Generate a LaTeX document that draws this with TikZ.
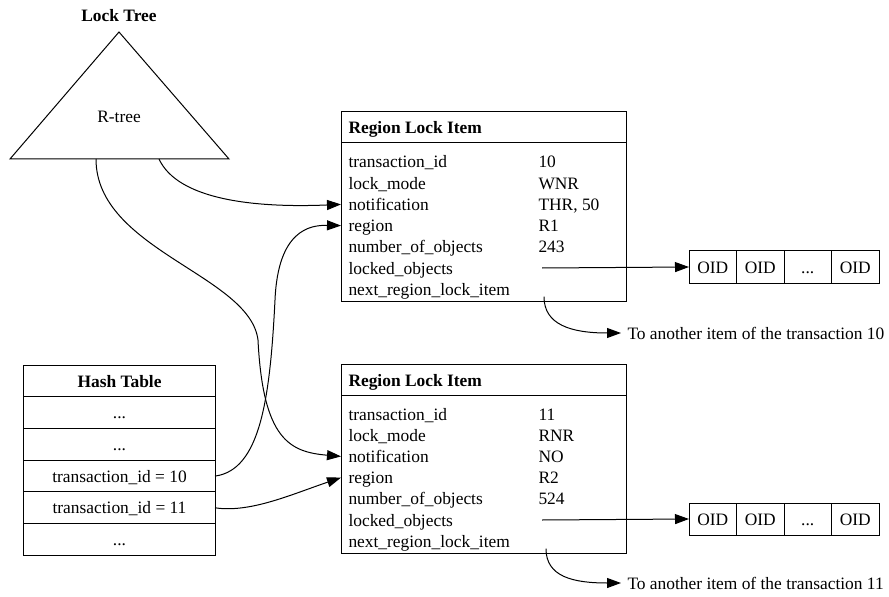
\documentclass[tikz,border=0pt]{standalone}
\usepackage{fontspec}
\setmainfont{Liberation Serif}
\usetikzlibrary{arrows.meta, positioning}

\begin{document}
\begin{tikzpicture}[x=1bp, y=-1bp, line width=1bp,
        every node/.style={font=\fontsize{17.4bp}{20bp}\selectfont, text height=13bp, text depth=1bp},
        box/.style={draw, minimum width=285bp, inner sep=0pt, outer sep=0pt},
        row/.style={anchor=west, inner xsep=7bp, inner ysep=0pt},
        val/.style={anchor=west, inner sep=0pt},
        cell/.style={draw, minimum width=191bp, minimum height=31.7bp, inner sep=0pt, outer sep=0pt},
        oid/.style={draw, minimum width=47.5bp, minimum height=32bp, inner sep=0pt, outer sep=0pt},
        arr/.style={-{Triangle[length=14bp, width=10bp]}}
    ]
    \useasboundingbox (0,0) rectangle (889,597);

    % lock tree
    \node (locktree) at (119,16) {\bfseries Lock Tree};
    \draw (119,32) -- (10,159) -- (229,159) -- cycle;
    \node (rtree) at (119,117) {R-tree};
    \coordinate (treel) at (96,159);
    \coordinate (treer) at (159,159);

    % region lock items
    \node[box, minimum height=31bp] (item1h) at (483.5,127.5) {};
    \node[box, minimum height=158bp, below=0pt of item1h] (item1) {};
    \node[row] (item1t) at (item1h.west) {\bfseries Region Lock Item};
    \foreach \rtxt/\rval [count=\i] in {transaction\_id/10, lock\_mode/WNR, notification/{THR, 50}, region/R1, number\_of\_objects/243, locked\_objects/{}, next\_region\_lock\_item/{}} {
        \node[row] (a\i) at (341, 140.8+21.2*\i) {\rtxt};
        \node[val] (av\i) at (538, 140.8+21.2*\i) {\rval};
    }

    \node[box, minimum height=31bp] (item2h) at (483.5,380) {};
    \node[box, minimum height=158bp, below=0pt of item2h] (item2) {};
    \node[row] (item2t) at (item2h.west) {\bfseries Region Lock Item};
    \foreach \rtxt/\rval [count=\i] in {transaction\_id/11, lock\_mode/RNR, notification/NO, region/R2, number\_of\_objects/524, locked\_objects/{}, next\_region\_lock\_item/{}} {
        \node[row] (b\i) at (341, 392.8+21.2*\i) {\rtxt};
        \node[val] (bv\i) at (538, 392.8+21.2*\i) {\rval};
    }

    % hash table
    \node[cell] (h0) at (119.5,381) {\bfseries Hash Table};
    \node[cell, below=0pt of h0] (h1) {...};
    \node[cell, below=0pt of h1] (h2) {...};
    \node[cell, below=0pt of h2] (h3) {transaction\_id = 10};
    \node[cell, below=0pt of h3] (h4) {transaction\_id = 11};
    \node[cell, below=0pt of h4] (h5) {...};

    % object id lists
    \node[oid] (o1a) at (712.75,267) {OID};
    \node[oid, right=0pt of o1a] (o1b) {OID};
    \node[oid, right=0pt of o1b] (o1c) {...};
    \node[oid, right=0pt of o1c] (o1d) {OID};
    \node[oid] (o2a) at (712.75,519) {OID};
    \node[oid, right=0pt of o2a] (o2b) {OID};
    \node[oid, right=0pt of o2b] (o2c) {...};
    \node[oid, right=0pt of o2c] (o2d) {OID};

    \node[anchor=west, inner xsep=6bp] (to1) at (621,333) {To another item of the transaction 10};
    \node[anchor=west, inner xsep=6bp] (to2) at (621,583) {To another item of the transaction 11};

    % connectors
    \draw[arr] (treer) .. controls (178,200) and (255,208) .. (a3.west);
    \draw[arr] (treel) .. controls (96,250) and (250,275) .. (258,340)
        .. controls (263,440) and (290,452) .. (b3.west);
    \draw[arr] (h3.east) .. controls (260,470) and (270,400) .. (275,300)
        .. controls (278,230) and (310,225) .. (a4.west);
    \draw[arr] (h4.east) .. controls (250,513) and (290,495) .. (b4.west);
    \draw[arr] ([xshift=4bp]av6.west) -- (o1a.west);
    \draw[arr] ([xshift=4bp]bv6.west) -- (o2a.west);
    \draw[arr] ([xshift=6bp]av7.south west) .. controls +(0,28) and +(-50,0) .. (to1.west);
    \draw[arr] ([xshift=8bp]bv7.south west) .. controls +(0,28) and +(-48,0) .. (to2.west);
\end{tikzpicture}
\end{document}
